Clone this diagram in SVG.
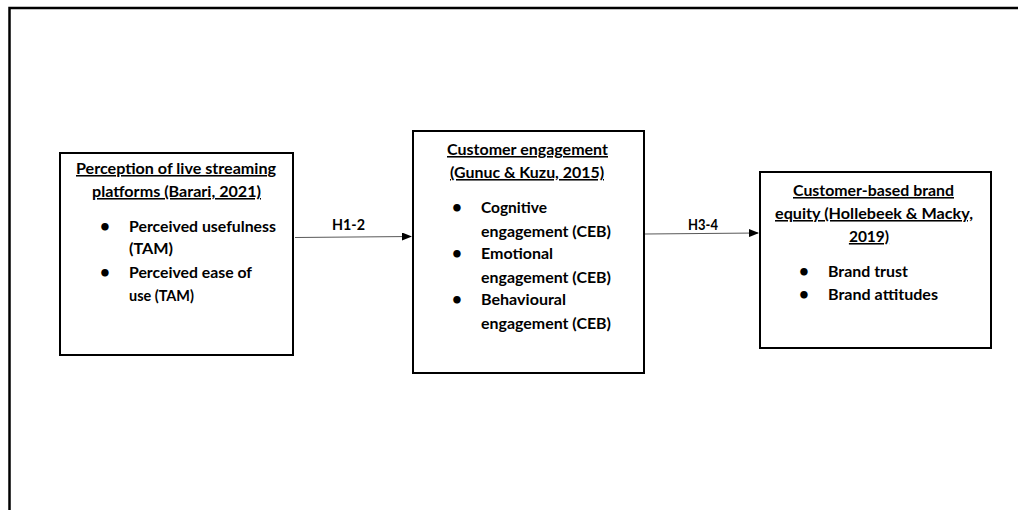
<svg xmlns="http://www.w3.org/2000/svg" width="1018" height="510" viewBox="0 0 1018 510">
<defs>
<style>
text{font-family:Lato,"Open Sans","Liberation Sans",sans-serif;font-weight:bold;font-size:15.5px;fill:#000}
.t{text-anchor:middle;text-decoration:underline}
.b{font-size:17px}
.box{fill:#fff;stroke:#000;stroke-width:2}
.c{stroke:#595959;stroke-width:1.2;fill:none}
</style>
<marker id="ah" markerWidth="10" markerHeight="8" refX="9" refY="4" orient="auto" markerUnits="userSpaceOnUse">
<path d="M0,0 L10,4 L0,8 Z" fill="#000"/>
</marker>
</defs>
<rect width="1018" height="510" fill="#fff"/>
<path d="M9.5,510 V8 H1018" fill="none" stroke="#000" stroke-width="2.5"/>
<g id="connectors">
<line class="c" x1="295" y1="237.5" x2="411" y2="236.5" marker-end="url(#ah)"/>
<line class="c" x1="645" y1="234" x2="758" y2="233" marker-end="url(#ah)"/>
<text x="332" y="230" textLength="33" lengthAdjust="spacingAndGlyphs">H1-2</text>
<text x="688" y="230" textLength="30" lengthAdjust="spacingAndGlyphs">H3-4</text>
</g>
<g id="node1">
<rect class="box" x="60" y="153" width="233" height="202"/>
<text class="t" x="176" y="174" textLength="200" lengthAdjust="spacingAndGlyphs">Perception of live streaming</text>
<text class="t" x="176.5" y="197" textLength="169" lengthAdjust="spacingAndGlyphs">platforms (Barari, 2021)</text>
<text class="b" x="100" y="232">•</text><text x="129" y="232" textLength="147" lengthAdjust="spacingAndGlyphs">Perceived usefulness</text>
<text x="129" y="254" textLength="44" lengthAdjust="spacingAndGlyphs">(TAM)</text>
<text class="b" x="100" y="278">•</text><text x="129" y="278" textLength="123" lengthAdjust="spacingAndGlyphs">Perceived ease of</text>
<text x="129" y="301" textLength="65" lengthAdjust="spacingAndGlyphs">use (TAM)</text>
</g>
<g id="node2">
<rect class="box" x="413" y="131" width="231" height="242"/>
<text class="t" x="527.5" y="155" textLength="161" lengthAdjust="spacingAndGlyphs">Customer engagement</text>
<text class="t" x="527" y="178" textLength="154" lengthAdjust="spacingAndGlyphs">(Gunuc &amp; Kuzu, 2015)</text>
<text class="b" x="452" y="213">•</text><text x="481" y="213" textLength="66" lengthAdjust="spacingAndGlyphs">Cognitive</text>
<text x="481" y="237" textLength="130" lengthAdjust="spacingAndGlyphs">engagement (CEB)</text>
<text class="b" x="452" y="259">•</text><text x="481" y="259" textLength="72" lengthAdjust="spacingAndGlyphs">Emotional</text>
<text x="481" y="283" textLength="130" lengthAdjust="spacingAndGlyphs">engagement (CEB)</text>
<text class="b" x="452" y="305">•</text><text x="481" y="305" textLength="85" lengthAdjust="spacingAndGlyphs">Behavioural</text>
<text x="481" y="329" textLength="130" lengthAdjust="spacingAndGlyphs">engagement (CEB)</text>
</g>
<g id="node3">
<rect class="box" x="760" y="172" width="231" height="176"/>
<text class="t" x="873.5" y="196" textLength="161" lengthAdjust="spacingAndGlyphs">Customer-based brand</text>
<text class="t" x="874" y="219" textLength="198" lengthAdjust="spacingAndGlyphs">equity (Hollebeek &amp; Macky,</text>
<text class="t" x="869" y="242">2019)</text>
<text class="b" x="799" y="277">•</text><text x="828" y="277" textLength="80" lengthAdjust="spacingAndGlyphs">Brand trust</text>
<text class="b" x="799" y="300">•</text><text x="828" y="300" textLength="110" lengthAdjust="spacingAndGlyphs">Brand attitudes</text>
</g>
</svg>
